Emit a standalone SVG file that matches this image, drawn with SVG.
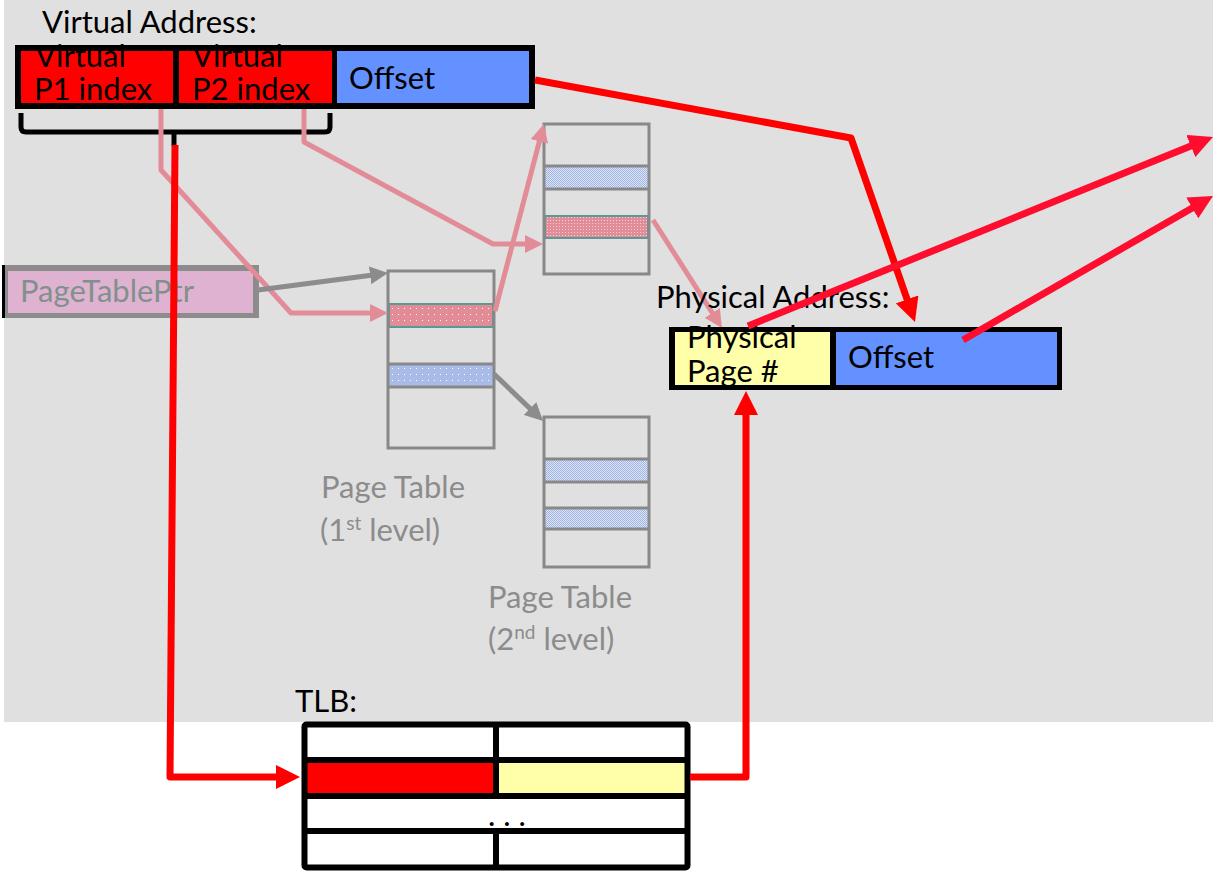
<svg xmlns="http://www.w3.org/2000/svg" width="1213" height="878" viewBox="0 0 1213 878">
<style>
  text { font-family: "Lato", "Open Sans", "Liberation Sans", sans-serif; font-size: 31px; }
  .blk { fill: #000000; }
  .gry { fill: #8c8c8c; }
  .ptr { fill: #7f918a; }
  .tbl { fill: none; stroke: #888888; stroke-width: 3; }
  .red { fill: none; stroke: #ff0000; stroke-width: 7; stroke-linejoin: round; }
  .red2 { fill: none; stroke: #ff0d2e; stroke-width: 7; }
  .pink { fill: none; stroke: #e28c98; stroke-width: 5; stroke-linejoin: round; }
  .grey { fill: none; stroke: #8c8c8c; stroke-width: 5; }
  .sup { font-size: 19px; }
</style>
<defs>
  <marker id="ahRed" markerUnits="userSpaceOnUse" markerWidth="24" markerHeight="24" viewBox="0 0 24 24" refX="4" refY="12" orient="auto">
    <path d="M0,0 L24,12 L0,24 z" fill="#ff0000"/>
  </marker>
  <marker id="ahRed2" markerUnits="userSpaceOnUse" markerWidth="24" markerHeight="24" viewBox="0 0 24 24" refX="4" refY="12" orient="auto">
    <path d="M0,0 L24,12 L0,24 z" fill="#ff0d2e"/>
  </marker>
  <marker id="ahPink" markerUnits="userSpaceOnUse" markerWidth="18" markerHeight="18" viewBox="0 0 18 18" refX="3" refY="9" orient="auto">
    <path d="M0,0 L18,9 L0,18 z" fill="#e28c98"/>
  </marker>
  <marker id="ahGrey" markerUnits="userSpaceOnUse" markerWidth="18" markerHeight="18" viewBox="0 0 18 18" refX="3" refY="9" orient="auto">
    <path d="M0,0 L18,9 L0,18 z" fill="#8c8c8c"/>
  </marker>
  <pattern id="pinkDots" width="6" height="6" patternUnits="userSpaceOnUse">
    <rect width="6" height="6" fill="#e28c98"/>
    <rect x="2" y="2" width="1" height="1" fill="#ffffff"/>
  </pattern>
  <pattern id="pinkFine" width="3" height="3" patternUnits="userSpaceOnUse">
    <rect width="3" height="3" fill="#e28c98"/>
    <rect x="1" y="1" width="1" height="1" fill="#f6d0d6"/>
  </pattern>
  <pattern id="blueDots" width="6" height="6" patternUnits="userSpaceOnUse">
    <rect width="6" height="6" fill="#a9bce8"/>
    <rect x="2" y="2" width="1" height="1" fill="#ffffff"/>
  </pattern>
  <pattern id="blueFine" width="2" height="2" patternUnits="userSpaceOnUse">
    <rect width="2" height="2" fill="#dfe6f6"/>
    <rect width="1" height="1" fill="#9fb3e3"/>
    <rect x="1" y="1" width="1" height="1" fill="#9fb3e3"/>
  </pattern>
</defs>

<rect id="background" x="4" y="0" width="1209" height="722" fill="#e0e0e0"/>

<g id="virtual-address">
  <text x="42" y="33" class="blk">Virtual Address:</text>
  <rect x="15" y="45" width="520" height="64" fill="#000000"/>
  <rect x="21" y="51" width="152" height="52" fill="#ff0000"/>
  <rect x="179" y="51" width="153" height="52" fill="#ff0000"/>
  <rect x="337" y="51" width="192" height="52" fill="#6391ff"/>
  <text x="35" y="67" class="blk">Virtual<tspan x="34" dy="33">P1 index</tspan></text>
  <text x="192" y="67" class="blk">Virtual<tspan x="192" dy="33">P2 index</tspan></text>
  <text x="349" y="89" class="blk">Offset</text>
  <rect x="15" y="45" width="520" height="6" fill="#000000"/>
</g>

<g id="bracket">
  <path d="M21,113 L21,127 Q21,132 26,132 L325,132 Q330,132 330,127 L330,113 M174,132 L174,146" fill="none" stroke="#000000" stroke-width="5"/>
</g>

<g id="page-table-ptr">
  <rect x="2" y="265" width="3.5" height="53" fill="#000000"/>
  <rect x="5" y="265" width="254" height="53" fill="#8c8c8c"/>
  <rect x="8" y="271" width="245" height="42" fill="#e0b2d2"/>
  <text x="20" y="302" class="ptr">PageTablePtr</text>
</g>

<g id="page-table-1">
  <rect x="389" y="304" width="104" height="23" fill="url(#pinkDots)" stroke="#5a9a94" stroke-width="2"/>
  <rect x="389" y="364" width="104" height="23" fill="url(#blueDots)"/>
  <line x1="388" y1="364" x2="494" y2="364" stroke="#888888" stroke-width="3"/>
  <line x1="388" y1="387" x2="494" y2="387" stroke="#888888" stroke-width="3"/>
  <rect x="388" y="271" width="106" height="177" class="tbl"/>
  <text x="321" y="498" class="gry">Page Table</text>
  <text x="320" y="541" class="gry">(1<tspan class="sup" dy="-11">st</tspan><tspan dy="11"> level)</tspan></text>
</g>

<g id="page-table-2a">
  <rect x="544" y="166" width="105" height="23" fill="url(#blueFine)"/>
  <rect x="545" y="216" width="103" height="22" fill="url(#pinkFine)" stroke="#5a9a94" stroke-width="2"/>
  <line x1="544" y1="166" x2="649" y2="166" stroke="#888888" stroke-width="3"/>
  <line x1="544" y1="189" x2="649" y2="189" stroke="#888888" stroke-width="3"/>
  <rect x="544" y="124" width="105" height="150" class="tbl"/>
</g>

<g id="page-table-2b">
  <rect x="544" y="459" width="105" height="23" fill="url(#blueFine)"/>
  <rect x="544" y="508" width="105" height="21" fill="url(#blueFine)"/>
  <line x1="544" y1="459" x2="649" y2="459" stroke="#888888" stroke-width="3"/>
  <line x1="544" y1="482" x2="649" y2="482" stroke="#888888" stroke-width="3"/>
  <line x1="544" y1="508" x2="649" y2="508" stroke="#888888" stroke-width="3"/>
  <line x1="544" y1="529" x2="649" y2="529" stroke="#888888" stroke-width="3"/>
  <rect x="544" y="417" width="105" height="150" class="tbl"/>
  <text x="488" y="608" class="gry">Page Table</text>
  <text x="488" y="650" class="gry">(2<tspan class="sup" dy="-11">nd</tspan><tspan dy="11"> level)</tspan></text>
</g>

<g id="connectors-faded">
  <path class="pink" d="M161,109 L161,170 L291,313 L373,313" marker-end="url(#ahPink)"/>
  <path class="pink" d="M304,109 L304,142 L493,244 L528,244" marker-end="url(#ahPink)"/>
  <path class="pink" d="M495,311 L540.1,138.5" marker-end="url(#ahPink)"/>
  <path class="pink" d="M653,220 L713.9,315.4" marker-end="url(#ahPink)"/>
  <path class="grey" d="M258,290 L373.1,274.9" marker-end="url(#ahGrey)"/>
  <path class="grey" d="M494,374 L532.2,410.6" marker-end="url(#ahGrey)"/>
</g>

<g id="physical-address">
  <text x="656" y="308" class="blk">Physical Address:</text>
  <rect x="669" y="327" width="393" height="63" fill="#000000"/>
  <rect x="675" y="332" width="155" height="53" fill="#ffffaa"/>
  <rect x="836" y="332" width="221" height="53" fill="#6391ff"/>
  <text x="687" y="348" class="blk">Physical<tspan x="687" dy="34">Page #</tspan></text>
  <text x="848" y="368" class="blk">Offset</text>
  <rect x="669" y="327" width="393" height="5" fill="#000000"/>
</g>

<g id="tlb">
  <text x="295" y="712" class="blk">TLB:</text>
  <rect x="304.5" y="724.5" width="383" height="143" fill="#ffffff"/>
  <rect x="305" y="760" width="191" height="36" fill="#ff0000"/>
  <rect x="496" y="760" width="191" height="36" fill="#ffffaa"/>
  <path d="M304.5,760 L687.5,760 M304.5,796 L687.5,796 M304.5,831 L687.5,831 M496,724 L496,796 M496,831 L496,868" stroke="#000000" stroke-width="6" fill="none"/>
  <rect x="304.5" y="724.5" width="383" height="143" rx="2" fill="none" stroke="#000000" stroke-width="6"/>
  <text x="488" y="826" class="blk">. . .</text>
</g>

<g id="connectors">
  <path class="red" d="M175,145 L170,777 L280,777" marker-end="url(#ahRed)"/>
  <path class="red" d="M535,80 L851,138 L908.4,303.1" marker-end="url(#ahRed)"/>
  <path class="red" d="M690,777 L746,777 L746,411" marker-end="url(#ahRed)"/>
  <path class="red2" d="M748,326 L1194.5,144.5" marker-end="url(#ahRed2)"/>
  <path class="red2" d="M963,340 L1195.7,206" marker-end="url(#ahRed2)"/>
</g>
</svg>
